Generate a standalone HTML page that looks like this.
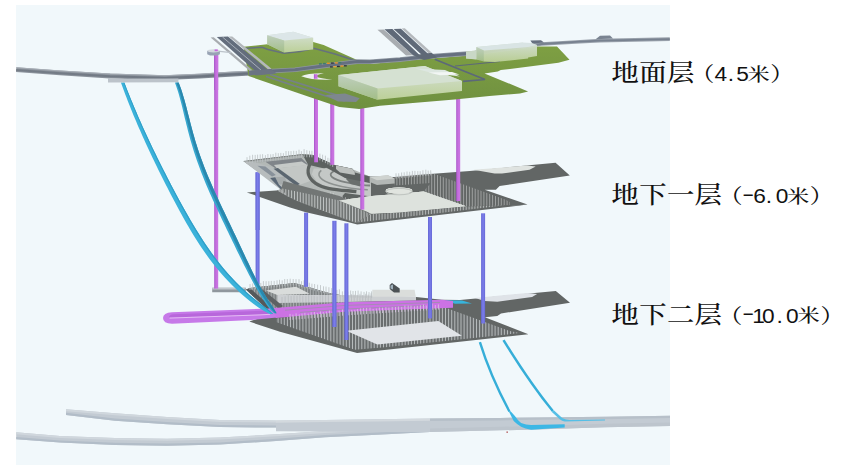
<!DOCTYPE html>
<html lang="zh"><head><meta charset="utf-8"><title>分层示意</title>
<style>
html,body{margin:0;padding:0;background:#fff;}
body{width:847px;height:474px;overflow:hidden;position:relative;}
svg{position:absolute;left:0;top:0;display:block;}
.k{font-family:"Liberation Serif","Noto Serif CJK SC",serif;fill:#111;font-weight:500;}
.d{font-family:"Liberation Sans","Noto Sans CJK SC",sans-serif;fill:#111;font-weight:400;}
.h{font-family:"Liberation Mono","Noto Sans CJK SC",monospace;fill:#111;font-weight:400;}
.a{text-anchor:middle;}
</style></head><body>
<svg width="847" height="474" viewBox="0 0 847 474">
<defs><linearGradient id="gm" x1="0" x2="1" y1="0" y2="0"><stop offset="0" stop-color="#a654c8"/><stop offset="0.4" stop-color="#c56ede"/><stop offset="1" stop-color="#cb76e3"/></linearGradient><linearGradient id="gb" x1="0" x2="1" y1="0" y2="0"><stop offset="0" stop-color="#6466d4"/><stop offset="0.5" stop-color="#7b7eea"/><stop offset="1" stop-color="#6668d6"/></linearGradient><linearGradient id="gg" x1="0" x2="0" y1="0" y2="1"><stop offset="0" stop-color="#7fa043"/><stop offset="1" stop-color="#6f9040"/></linearGradient><linearGradient id="gbf" x1="0" x2="0" y1="0" y2="1"><stop offset="0" stop-color="#d6e1d8"/><stop offset="1" stop-color="#bcd098"/></linearGradient><linearGradient id="gbs" x1="0" x2="0" y1="0" y2="1"><stop offset="0" stop-color="#bfcfbe"/><stop offset="1" stop-color="#a3be88"/></linearGradient><linearGradient id="grd" gradientUnits="userSpaceOnUse" x1="16" x2="250" y1="0" y2="0"><stop offset="0" stop-color="#8d949d"/><stop offset="0.6" stop-color="#868e97"/><stop offset="1" stop-color="#7c848f"/></linearGradient><linearGradient id="grd2" gradientUnits="userSpaceOnUse" x1="16" x2="250" y1="0" y2="0"><stop offset="0" stop-color="#757d87"/><stop offset="0.6" stop-color="#707883"/><stop offset="1" stop-color="#69727e"/></linearGradient></defs>
<rect x="16.0" y="5.0" width="654.0" height="460.0" fill="#f1f8fb" />
<polygon points="66.0,409.3 115.0,413.2 167.0,417.0 220.0,420.0 276.0,420.5 276.0,427.6 220.0,427.1 167.0,424.3 115.0,420.7 66.0,414.9" fill="#c3cbd3" />
<polygon points="66.0,409.3 115.0,413.2 167.0,417.0 220.0,420.0 276.0,420.5 276.0,422.5 220.0,422.0 167.0,419.0 115.0,415.2 66.0,411.3" fill="#d0d7dd" />
<polygon points="66.0,412.7 115.0,418.5 167.0,422.1 220.0,424.9 276.0,425.4 276.0,427.6 220.0,427.1 167.0,424.3 115.0,420.7 66.0,414.9" fill="#b2bdc8" />
<polygon points="16.2,432.3 60.0,436.0 115.0,438.0 167.0,438.8 220.0,437.6 276.0,434.2 325.0,431.1 377.0,428.0 430.0,425.0 430.0,432.1 377.0,434.8 325.0,437.3 276.0,441.0 220.0,444.6 167.0,445.8 115.0,445.0 60.0,442.6 16.2,439.2" fill="#c3cbd3" />
<polygon points="16.2,432.3 60.0,436.0 115.0,438.0 167.0,438.8 220.0,437.6 276.0,434.2 325.0,431.1 377.0,428.0 430.0,425.0 430.0,427.0 377.0,430.0 325.0,433.1 276.0,436.2 220.0,439.6 167.0,440.8 115.0,440.0 60.0,438.0 16.2,434.3" fill="#d0d7dd" />
<polygon points="16.2,437.0 60.0,440.4 115.0,442.8 167.0,443.6 220.0,442.4 276.0,438.8 325.0,435.1 377.0,432.6 430.0,429.9 430.0,432.1 377.0,434.8 325.0,437.3 276.0,441.0 220.0,444.6 167.0,445.8 115.0,445.0 60.0,442.6 16.2,439.2" fill="#b2bdc8" />
<polygon points="276.0,420.5 325.0,419.9 377.0,419.3 430.0,418.6 500.0,418.0 535.0,417.4 605.0,416.8 670.0,415.7 670.0,426.0 605.0,427.3 535.0,429.6 500.0,430.3 430.0,432.1 377.0,432.0 325.0,431.6 276.0,431.3" fill="#c3cbd3" />
<polygon points="276.0,420.5 325.0,419.9 377.0,419.3 430.0,418.6 430.0,420.8 377.0,421.5 325.0,422.1 276.0,422.7" fill="#d3d9de" />
<polygon points="430.0,418.6 500.0,418.0 535.0,417.4 605.0,416.8 670.0,415.7 670.0,418.1 605.0,419.2 535.0,419.8 500.0,420.4 430.0,421.0" fill="#b7c0c9" />
<polygon points="430.0,428.6 500.0,426.8 535.0,426.1 605.0,423.8 670.0,422.5 670.0,426.0 605.0,427.3 535.0,429.6 500.0,430.3 430.0,432.1" fill="#bdc5cd" />
<rect x="506.5" y="431.5" width="1.3" height="1.3" fill="#a83a3a" />
<path d="M479.9,342.1 Q490,375 509.4,411.5" fill="none" stroke="#36aed8" stroke-width="2.4" />
<path d="M503.5,340.1 Q530.6,384 552.8,411" fill="none" stroke="#36aed8" stroke-width="2.5" />
<path d="M508.7,411.2 L510.6,411.2 L514.9,416.1 Q518,421 521.1,423 Q526,424.9 531.1,424.9 L564.7,424.2 L564.7,427.6 L531.1,429.8 Q525,428.5 521.1,426.7 Q517,424.5 513.7,421.1 Z" fill="#3cb7e5" stroke="none" stroke-width="1" />
<path d="M551.6,411.8 L553.8,410.3 L562.2,418 Q566,420 569.7,420 L605,419.4 L605,420.4 L564.7,421.4 Q562,421 559.7,419.3 Z" fill="#55bfe6" stroke="none" stroke-width="1" />
<polygon points="249.3,321.6 272.0,314.0 246.0,289.5 250.0,288.0 294.7,283.0 327.0,292.4 345.0,296.0 416.0,297.0 442.0,299.8 460.0,299.9 555.8,291.1 570.0,302.8 501.0,313.5 497.3,316.0 484.9,317.3 528.4,334.2 357.1,352.9 280.0,331.7" fill="#626665" />
<polygon points="475.0,297.9 527.2,292.9 537.1,294.1 532.1,296.9 497.3,301.8 484.9,301.1" fill="#dfe3e8" />
<polygon points="246.0,289.5 250.0,288.0 294.7,283.0 327.0,292.4 345.0,296.0 345.0,306.0 272.0,314.0" fill="#7d8283" />
<clipPath id="c0"><polygon points="246.0,289.5 250.0,288.0 294.7,283.0 327.0,292.4 345.0,296.0 345.0,306.0 272.0,314.0"/></clipPath>
<path d="M246.0 282.0V315.0M248.8 282.0V315.0M251.6 282.0V315.0M254.4 282.0V315.0M257.2 282.0V315.0M260.0 282.0V315.0M262.8 282.0V315.0M265.6 282.0V315.0M268.4 282.0V315.0M271.2 282.0V315.0M274.0 282.0V315.0M276.8 282.0V315.0M279.6 282.0V315.0M282.4 282.0V315.0M285.2 282.0V315.0M288.0 282.0V315.0M290.8 282.0V315.0M293.6 282.0V315.0M296.4 282.0V315.0M299.2 282.0V315.0M302.0 282.0V315.0M304.8 282.0V315.0M307.6 282.0V315.0M310.4 282.0V315.0M313.2 282.0V315.0M316.0 282.0V315.0M318.8 282.0V315.0M321.6 282.0V315.0M324.4 282.0V315.0M327.2 282.0V315.0M330.0 282.0V315.0M332.8 282.0V315.0M335.6 282.0V315.0M338.4 282.0V315.0M341.2 282.0V315.0M344.0 282.0V315.0" fill="none" stroke="#c9cdce" stroke-width="0.8" clip-path="url(#c0)" opacity="0.75"/>
<polygon points="266.0,290.5 296.0,286.8 309.7,293.7 277.3,294.9" fill="#d9dcdb" />
<polygon points="277.3,294.9 345.0,294.9 416.0,296.8 416.0,300.5 345.0,302.0 277.3,303.0" fill="#cdd0d3" />
<polygon points="246.0,289.5 250.0,288.2 276.0,311.0 272.0,314.0" fill="#55595b" />
<polygon points="255.0,288.0 260.0,287.4 283.0,306.0 279.0,309.0" fill="#5d6163" />
<polygon points="372.3,289.7 414.6,289.7 415.8,296.8 372.3,296.8" fill="#dadddb" />
<polygon points="389.7,285.0 392.0,283.1 399.7,288.5 399.7,292.4 394.0,292.4 389.7,289.0" fill="#4c5255" />
<polygon points="390.5,285.5 393.0,284.5 393.0,289.5 390.5,288.5" fill="#9fb0bb" />
<path d="M250.0 290.0v-5.9M252.7 289.7v-6.2M255.5 289.4v-6.6M257.9 289.1v-5.5M260.8 288.8v-5.9M263.4 288.5v-7.4M266.1 288.2v-7.0M268.8 287.9v-6.7M271.3 287.6v-6.7M274.2 287.3v-6.4M277.0 287.0v-6.7M279.5 286.7v-6.9M282.2 286.4v-6.0M284.7 286.1v-7.1M287.3 285.8v-6.8M290.2 285.5v-6.8M293.2 285.2v-6.2M296.0 285.4v-6.3M299.0 286.2v-7.1M301.5 286.9v-5.7M304.0 287.6v-7.3M306.7 288.3v-6.6M309.3 289.1v-6.4M311.9 289.8v-6.1M314.6 290.6v-6.6M317.6 291.4v-6.7M320.5 292.2v-7.1M323.5 293.0v-6.7M326.0 293.7v-7.1M328.9 294.4v-7.2M331.7 294.9v-6.8M334.2 295.4v-7.0M336.9 295.9v-6.0M339.4 296.4v-7.1M342.4 297.0v-5.6M345.2 297.5v-6.2M347.8 297.6v-6.0M350.6 297.6v-7.1M353.0 297.6v-6.6M355.5 297.7v-6.8M358.1 297.7v-7.1M361.1 297.8v-6.4M364.0 297.9v-6.0M366.5 297.9v-6.6M369.0 297.9v-5.8M371.6 298.0v-6.6" fill="none" stroke="#bcc1c4" stroke-width="0.8" opacity="1"/>
<path d="M282.0 303.0v-6.0M285.1 303.0v-6.6M288.3 302.9v-7.8M291.1 302.9v-6.9M294.0 302.8v-7.3M297.0 302.8v-7.1M299.9 302.7v-7.9M302.8 302.7v-6.9M305.9 302.6v-6.4M308.7 302.6v-8.0M311.6 302.5v-7.1M314.2 302.5v-6.8M317.1 302.4v-6.0M320.1 302.4v-7.3M322.7 302.4v-7.3M325.6 302.3v-7.4M328.4 302.3v-7.4M331.5 302.2v-6.0M334.1 302.2v-7.4M337.3 302.1v-6.5M340.2 302.1v-7.2M343.0 302.0v-6.7M345.8 302.0v-6.7M348.7 301.9v-6.6M351.5 301.8v-7.6M354.2 301.7v-7.1M357.2 301.5v-6.6M359.9 301.4v-7.6M362.7 301.3v-6.3M365.6 301.2v-7.4M368.2 301.1v-6.6M371.0 301.0v-7.7" fill="none" stroke="#aeb2b5" stroke-width="0.7" opacity="0.8"/>
<polygon points="276.0,318.5 345.0,309.0 430.0,304.0 445.0,307.5 509.6,331.0 520.0,333.0 505.0,334.7 385.0,347.3 354.6,349.8 280.0,323.6 276.0,322.0" fill="#696d6e" />
<clipPath id="c1"><polygon points="276.0,318.5 345.0,309.0 430.0,304.0 445.0,307.5 509.6,331.0 520.0,333.0 505.0,334.7 385.0,347.3 354.6,349.8 280.0,323.6 276.0,322.0"/></clipPath>
<path d="M275.0 300.0V352.0M278.1 300.0V352.0M281.2 300.0V352.0M284.3 300.0V352.0M287.4 300.0V352.0M290.5 300.0V352.0M293.6 300.0V352.0M296.7 300.0V352.0M299.8 300.0V352.0M302.9 300.0V352.0M306.0 300.0V352.0M309.1 300.0V352.0M312.2 300.0V352.0M315.3 300.0V352.0M318.4 300.0V352.0M321.5 300.0V352.0M324.6 300.0V352.0M327.7 300.0V352.0M330.8 300.0V352.0M333.9 300.0V352.0M337.0 300.0V352.0M340.1 300.0V352.0M343.2 300.0V352.0M346.3 300.0V352.0M349.4 300.0V352.0M352.5 300.0V352.0M355.6 300.0V352.0M358.7 300.0V352.0M361.8 300.0V352.0M364.9 300.0V352.0M368.0 300.0V352.0M371.1 300.0V352.0M374.2 300.0V352.0M377.3 300.0V352.0M380.4 300.0V352.0M383.5 300.0V352.0M386.6 300.0V352.0M389.7 300.0V352.0M392.8 300.0V352.0M395.9 300.0V352.0M399.0 300.0V352.0M402.1 300.0V352.0M405.2 300.0V352.0M408.3 300.0V352.0M411.4 300.0V352.0M414.5 300.0V352.0M417.6 300.0V352.0M420.7 300.0V352.0M423.8 300.0V352.0M426.9 300.0V352.0M430.0 300.0V352.0M433.1 300.0V352.0M436.2 300.0V352.0M439.3 300.0V352.0M442.4 300.0V352.0M445.5 300.0V352.0M448.6 300.0V352.0M451.7 300.0V352.0M454.8 300.0V352.0M457.9 300.0V352.0M461.0 300.0V352.0M464.1 300.0V352.0M467.2 300.0V352.0M470.3 300.0V352.0M473.4 300.0V352.0M476.5 300.0V352.0M479.6 300.0V352.0M482.7 300.0V352.0M485.8 300.0V352.0M488.9 300.0V352.0M492.0 300.0V352.0M495.1 300.0V352.0M498.2 300.0V352.0M501.3 300.0V352.0M504.4 300.0V352.0M507.5 300.0V352.0M510.6 300.0V352.0M513.7 300.0V352.0M516.8 300.0V352.0M519.9 300.0V352.0" fill="none" stroke="#d9dcde" stroke-width="0.7" clip-path="url(#c1)" opacity="1"/>
<polygon points="346.2,330.8 438.3,320.9 461.9,335.8 377.3,344.5" fill="#e1e4e8" />
<polygon points="444.5,300.3 462.0,300.6 472.0,303.5 455.0,303.8" fill="#37b4dc" />
<polygon points="268.6,308.6 345.0,302.2 442.0,299.8 453.0,301.0 453.0,307.7 345.0,311.8 276.0,317.9" fill="#cc72e4" />
<polyline points="285.0,310.2 345.0,305.4 440.0,302.4" fill="none" stroke="#a08fb0" stroke-width="0.9" />
<polyline points="300.0,312.4 345.0,309.0 425.0,305.6" fill="none" stroke="#a08fb0" stroke-width="0.9" />
<path d="M290.0 320.0v-6.1M292.9 319.8v-5.2M296.1 319.5v-6.1M299.2 319.3v-5.0M302.0 319.0v-5.5M304.9 318.8v-6.0M308.2 318.5v-5.0M311.2 318.3v-6.0M314.4 318.0v-6.0M317.4 317.8v-4.9M320.4 317.5v-6.0M323.3 317.3v-5.2M326.4 317.0v-5.4M329.4 316.8v-6.2M332.3 316.5v-4.7M335.7 316.3v-6.1M339.1 316.0v-5.4M342.5 315.7v-6.2M345.4 315.5v-5.9M348.7 315.3v-5.8M351.8 315.1v-5.2M354.8 314.9v-5.1M357.6 314.7v-5.6M360.6 314.5v-6.0M363.4 314.3v-6.2M366.6 314.1v-6.2M370.0 313.9v-6.2M373.1 313.7v-4.7M376.4 313.5v-5.0M379.4 313.3v-5.8M382.5 313.1v-5.4M385.9 312.9v-5.7M388.9 312.7v-5.1M392.2 312.5v-5.5M395.5 312.3v-5.3M398.4 312.1v-5.6M401.7 311.9v-5.0M404.9 311.7v-6.2M408.2 311.5v-6.0M411.0 311.3v-5.7M414.4 311.1v-4.8M417.3 310.9v-5.1M420.4 310.7v-5.4M423.5 310.5v-6.0M426.3 310.4v-4.8M429.2 310.2v-4.9M432.0 310.0v-6.3M435.3 309.8v-4.8M438.4 309.6v-5.2" fill="none" stroke="#dcc8e6" stroke-width="0.8" opacity="1"/>
<path d="M272,308.4 L172,312.2 Q163,312.6 163,318 Q163,323.6 172,323.7 L252,319.9 L277,317.6 Z" fill="#c679e8" stroke="none" stroke-width="1" />
<path d="M272,310.4 L174,314.2 Q168.6,314.6 169,317.6 L268,314.3 Z" fill="#b867db" stroke="none" stroke-width="1" />
<polyline points="169.5,318.1 260.0,314.9 270.0,314.3" fill="none" stroke="#e8c4f5" stroke-width="0.9" />
<polygon points="212.2,287.8 245.8,287.8 245.8,292.3 212.2,292.3" fill="#8f979d" />
<polygon points="212.2,287.8 245.8,287.8 244.0,289.6 212.2,289.6" fill="#c1c7cc" />
<rect x="255.6" y="172.3" width="4.0" height="112.5" fill="url(#gb)" />
<rect x="304.1" y="212.6" width="4.0" height="74.2" fill="url(#gb)" />
<rect x="332.3" y="220.8" width="4.2" height="106.2" fill="url(#gb)" />
<rect x="344.4" y="223.3" width="4.0" height="116.7" fill="url(#gb)" />
<rect x="428.0" y="217.0" width="4.0" height="101.4" fill="url(#gb)" />
<rect x="481.1" y="213.3" width="4.0" height="110.2" fill="url(#gb)" />
<rect x="214.2" y="55.0" width="4.0" height="233.6" fill="url(#gm)" />
<polygon points="120.9,82.4 122.0,85.4 123.1,88.4 124.2,91.4 125.3,94.4 126.5,97.4 127.6,100.4 128.8,103.4 130.0,106.4 131.2,109.4 132.4,112.4 133.6,115.4 134.9,118.4 136.2,121.4 137.4,124.4 138.7,127.4 140.1,130.4 141.4,133.4 142.7,136.4 144.1,139.4 145.4,142.4 146.8,145.4 148.2,148.4 149.6,151.4 151.0,154.4 152.4,157.4 153.9,160.4 155.3,163.4 156.8,166.4 158.2,169.4 159.7,172.4 161.2,175.4 162.7,178.4 164.2,181.4 165.7,184.4 167.3,187.4 168.8,190.4 170.3,193.4 171.9,196.4 173.5,199.4 175.1,202.4 176.7,205.4 178.3,208.4 179.9,211.4 181.6,214.4 183.2,217.4 184.9,220.4 186.6,223.4 188.4,226.4 190.1,229.4 191.9,232.4 193.7,235.4 195.6,238.4 197.5,241.4 199.4,244.4 201.4,247.4 203.5,250.4 205.6,253.4 207.7,256.4 209.9,259.4 212.2,262.4 214.6,265.4 217.0,268.4 219.5,271.4 222.1,274.4 224.8,277.4 227.6,280.4 230.5,283.4 233.5,286.4 236.6,289.4 239.8,292.4 243.2,295.4 246.7,298.4 250.4,301.4 254.3,304.4 258.5,307.4 263.1,310.4 268.6,313.4 269.8,314.0 273.3,314.0 272.6,313.4 269.3,310.4 265.5,307.4 261.5,304.4 257.6,301.4 253.9,298.4 250.3,295.4 246.9,292.4 243.6,289.4 240.4,286.4 237.3,283.4 234.4,280.4 231.6,277.4 228.8,274.4 226.2,271.4 223.6,268.4 221.2,265.4 218.8,262.4 216.5,259.4 214.2,256.4 212.0,253.4 209.9,250.4 207.8,247.4 205.7,244.4 203.7,241.4 201.8,238.4 199.9,235.4 198.0,232.4 196.1,229.4 194.3,226.4 192.5,223.4 190.7,220.4 189.0,217.4 187.3,214.4 185.6,211.4 183.9,208.4 182.2,205.4 180.6,202.4 178.9,199.4 177.3,196.4 175.7,193.4 174.1,190.4 172.5,187.4 170.9,184.4 169.4,181.4 167.8,178.4 166.3,175.4 164.8,172.4 163.2,169.4 161.7,166.4 160.2,163.4 158.7,160.4 157.2,157.4 155.8,154.4 154.3,151.4 152.8,148.4 151.4,145.4 150.0,142.4 148.6,139.4 147.2,136.4 145.8,133.4 144.4,130.4 143.0,127.4 141.7,124.4 140.4,121.4 139.0,118.4 137.7,115.4 136.5,112.4 135.2,109.4 133.9,106.4 132.7,103.4 131.4,100.4 130.2,97.4 129.0,94.4 127.8,91.4 126.6,88.4 125.5,85.4 124.3,82.4" fill="#3bb2da" />
<polygon points="123.5,82.4 124.6,85.4 125.8,88.4 126.9,91.4 128.1,94.4 129.3,97.4 130.5,100.4 131.7,103.4 132.9,106.4 134.2,109.4 135.4,112.4 136.7,115.4 138.0,118.4 139.3,121.4 140.6,124.4 142.0,127.4 143.3,130.4 144.7,133.4 146.1,136.4 147.4,139.4 148.8,142.4 150.3,145.4 151.7,148.4 153.1,151.4 154.6,154.4 156.0,157.4 157.5,160.4 159.0,163.4 160.5,166.4 162.0,169.4 163.5,172.4 165.0,175.4 166.5,178.4 168.1,181.4 169.6,184.4 171.2,187.4 172.8,190.4 174.4,193.4 176.0,196.4 177.6,199.4 179.2,202.4 180.8,205.4 182.5,208.4 184.2,211.4 185.8,214.4 187.6,217.4 189.3,220.4 191.0,223.4 192.8,226.4 194.6,229.4 196.5,232.4 198.3,235.4 200.2,238.4 202.2,241.4 204.2,244.4 206.2,247.4 208.3,250.4 210.4,253.4 212.6,256.4 214.8,259.4 217.1,262.4 219.5,265.4 222.0,268.4 224.5,271.4 227.1,274.4 229.9,277.4 232.7,280.4 235.6,283.4 238.7,286.4 241.8,289.4 245.1,292.4 248.5,295.4 252.1,298.4 255.8,301.4 259.7,304.4 263.7,307.4 267.7,310.4 271.6,313.4 272.4,314.0 273.3,314.0 272.6,313.4 269.3,310.4 265.5,307.4 261.5,304.4 257.6,301.4 253.9,298.4 250.3,295.4 246.9,292.4 243.6,289.4 240.4,286.4 237.3,283.4 234.4,280.4 231.6,277.4 228.8,274.4 226.2,271.4 223.6,268.4 221.2,265.4 218.8,262.4 216.5,259.4 214.2,256.4 212.0,253.4 209.9,250.4 207.8,247.4 205.7,244.4 203.7,241.4 201.8,238.4 199.9,235.4 198.0,232.4 196.1,229.4 194.3,226.4 192.5,223.4 190.7,220.4 189.0,217.4 187.3,214.4 185.6,211.4 183.9,208.4 182.2,205.4 180.6,202.4 178.9,199.4 177.3,196.4 175.7,193.4 174.1,190.4 172.5,187.4 170.9,184.4 169.4,181.4 167.8,178.4 166.3,175.4 164.8,172.4 163.2,169.4 161.7,166.4 160.2,163.4 158.7,160.4 157.2,157.4 155.8,154.4 154.3,151.4 152.8,148.4 151.4,145.4 150.0,142.4 148.6,139.4 147.2,136.4 145.8,133.4 144.4,130.4 143.0,127.4 141.7,124.4 140.4,121.4 139.0,118.4 137.7,115.4 136.5,112.4 135.2,109.4 133.9,106.4 132.7,103.4 131.4,100.4 130.2,97.4 129.0,94.4 127.8,91.4 126.6,88.4 125.5,85.4 124.3,82.4" fill="#2f9fc8" />
<polygon points="174.9,82.4 176.0,85.4 177.0,88.4 178.0,91.4 178.9,94.4 179.7,97.4 180.5,100.4 181.3,103.4 182.1,106.4 182.8,109.4 183.5,112.4 184.2,115.4 184.9,118.4 185.7,121.4 186.4,124.4 187.2,127.4 187.9,130.4 188.7,133.4 189.5,136.4 190.3,139.4 191.2,142.4 192.1,145.4 193.0,148.4 193.9,151.4 194.9,154.4 195.9,157.4 196.9,160.4 198.0,163.4 199.1,166.4 200.2,169.4 201.3,172.4 202.5,175.4 203.7,178.4 204.9,181.4 206.1,184.4 207.4,187.4 208.7,190.4 210.0,193.4 211.4,196.4 212.7,199.4 214.1,202.4 215.5,205.4 216.9,208.4 218.3,211.4 219.7,214.4 221.1,217.4 222.5,220.4 224.0,223.4 225.4,226.4 226.8,229.4 228.3,232.4 229.7,235.4 231.2,238.4 232.6,241.4 234.1,244.4 235.5,247.4 236.9,250.4 238.4,253.4 239.9,256.4 241.4,259.4 242.8,262.4 244.3,265.4 245.9,268.4 247.4,271.4 248.9,274.4 250.5,277.4 252.1,280.4 253.7,283.4 255.3,286.4 257.0,289.4 258.8,292.4 260.6,295.4 262.4,298.4 264.4,301.4 266.4,304.4 268.6,307.4 271.2,310.4 274.1,313.2 276.6,313.2 275.0,310.4 273.2,307.4 271.1,304.4 269.1,301.4 267.1,298.4 265.3,295.4 263.5,292.4 261.7,289.4 260.1,286.4 258.4,283.4 256.9,280.4 255.3,277.4 253.8,274.4 252.3,271.4 250.9,268.4 249.5,265.4 248.1,262.4 246.6,259.4 245.2,256.4 243.8,253.4 242.4,250.4 241.0,247.4 239.6,244.4 238.2,241.4 236.8,238.4 235.4,235.4 233.9,232.4 232.5,229.4 231.1,226.4 229.7,223.4 228.2,220.4 226.8,217.4 225.4,214.4 224.0,211.4 222.5,208.4 221.1,205.4 219.7,202.4 218.3,199.4 217.0,196.4 215.6,193.4 214.2,190.4 212.9,187.4 211.6,184.4 210.3,181.4 209.0,178.4 207.7,175.4 206.5,172.4 205.3,169.4 204.1,166.4 203.0,163.4 201.9,160.4 200.8,157.4 199.7,154.4 198.7,151.4 197.7,148.4 196.8,145.4 195.8,142.4 194.9,139.4 194.1,136.4 193.2,133.4 192.4,130.4 191.6,127.4 190.8,124.4 190.0,121.4 189.3,118.4 188.5,115.4 187.7,112.4 187.0,109.4 186.2,106.4 185.4,103.4 184.6,100.4 183.7,97.4 182.8,94.4 181.9,91.4 180.9,88.4 179.8,85.4 178.6,82.4" fill="#38a8cf" />
<polygon points="176.3,82.4 177.4,85.4 178.5,88.4 179.5,91.4 180.4,94.4 181.2,97.4 182.1,100.4 182.9,103.4 183.6,106.4 184.4,109.4 185.1,112.4 185.9,115.4 186.6,118.4 187.3,121.4 188.1,124.4 188.8,127.4 189.6,130.4 190.4,133.4 191.2,136.4 192.1,139.4 193.0,142.4 193.9,145.4 194.8,148.4 195.7,151.4 196.7,154.4 197.7,157.4 198.8,160.4 199.9,163.4 201.0,166.4 202.1,169.4 203.3,172.4 204.5,175.4 205.7,178.4 206.9,181.4 208.2,184.4 209.5,187.4 210.8,190.4 212.1,193.4 213.5,196.4 214.9,199.4 216.2,202.4 217.6,205.4 219.0,208.4 220.4,211.4 221.8,214.4 223.3,217.4 224.7,220.4 226.1,223.4 227.6,226.4 229.0,229.4 230.4,232.4 231.9,235.4 233.3,238.4 234.7,241.4 236.2,244.4 237.6,247.4 239.0,250.4 240.5,253.4 241.9,256.4 243.4,259.4 244.8,262.4 246.3,265.4 247.8,268.4 249.3,271.4 250.8,274.4 252.3,277.4 253.9,280.4 255.5,283.4 257.1,286.4 258.8,289.4 260.5,292.4 262.3,295.4 264.2,298.4 266.2,301.4 268.2,304.4 270.3,307.4 272.7,310.4 275.0,313.2 276.6,313.2 275.0,310.4 273.2,307.4 271.1,304.4 269.1,301.4 267.1,298.4 265.3,295.4 263.5,292.4 261.7,289.4 260.1,286.4 258.4,283.4 256.9,280.4 255.3,277.4 253.8,274.4 252.3,271.4 250.9,268.4 249.5,265.4 248.1,262.4 246.6,259.4 245.2,256.4 243.8,253.4 242.4,250.4 241.0,247.4 239.6,244.4 238.2,241.4 236.8,238.4 235.4,235.4 233.9,232.4 232.5,229.4 231.1,226.4 229.7,223.4 228.2,220.4 226.8,217.4 225.4,214.4 224.0,211.4 222.5,208.4 221.1,205.4 219.7,202.4 218.3,199.4 217.0,196.4 215.6,193.4 214.2,190.4 212.9,187.4 211.6,184.4 210.3,181.4 209.0,178.4 207.7,175.4 206.5,172.4 205.3,169.4 204.1,166.4 203.0,163.4 201.9,160.4 200.8,157.4 199.7,154.4 198.7,151.4 197.7,148.4 196.8,145.4 195.8,142.4 194.9,139.4 194.1,136.4 193.2,133.4 192.4,130.4 191.6,127.4 190.8,124.4 190.0,121.4 189.3,118.4 188.5,115.4 187.7,112.4 187.0,109.4 186.2,106.4 185.4,103.4 184.6,100.4 183.7,97.4 182.8,94.4 181.9,91.4 180.9,88.4 179.8,85.4 178.6,82.4" fill="#2a88ae" />
<polygon points="246.8,192.4 276.0,190.5 283.5,189.7 339.5,204.6 361.8,214.6 440.0,209.6 527.5,204.6 357.2,224.6 345.0,221.3 305.0,212.0 290.0,207.5 246.8,192.4" fill="#626665" />
<rect x="255.6" y="172.3" width="4.0" height="57.7" fill="url(#gb)" />
<polygon points="243.7,161.2 302.2,154.3 312.1,154.7 334.5,165.0 352.3,168.7 355.0,172.4 369.8,176.5 394.6,177.0 420.0,174.8 469.8,171.0 555.6,162.8 569.8,175.5 499.6,186.0 495.9,189.7 484.7,189.7 527.5,204.6 440.0,212.0 361.8,218.0 339.5,208.0 283.5,189.7" fill="#626665" />
<polygon points="473.5,169.8 527.0,165.6 535.7,166.6 529.5,169.8 502.0,173.5 494.6,173.5" fill="#dfe3e0" />
<polygon points="243.7,161.2 302.2,154.3 312.1,154.7 322.0,160.0 334.5,165.0 352.0,169.0 371.0,177.0 371.0,203.0 370.8,214.2 338.4,201.1 282.4,189.7" fill="#b3b8b6" />
<polygon points="243.7,161.2 302.2,154.3 306.0,157.4 252.0,163.6" fill="#a9aead" />
<polyline points="243.7,161.4 302.2,154.6" fill="none" stroke="#6d7271" stroke-width="0.8" />
<polygon points="265.4,161.8 301.4,158.0 308.1,164.7 275.8,168.5" fill="#80858a" />
<polygon points="273.9,164.9 301.8,161.6 307.7,165.2 277.1,168.5" fill="#c6cac8" />
<polygon points="275.8,168.5 308.1,164.7 305.6,174.2 310.9,180.8 298.6,185.2" fill="#c3c7c5" />
<polygon points="243.5,161.3 255.9,162.4 275.8,168.5 296.1,185.5 282.4,190.9" fill="#b7bcbd" />
<polygon points="257.4,165.8 265.4,166.6 275.8,175.1 272.0,176.4" fill="#88919a" />
<polygon points="275.2,177.2 284.7,176.4 287.2,183.6 279.0,184.8" fill="#a6abac" />
<polygon points="270.1,178.0 275.2,177.2 279.0,184.8 284.7,189.7 282.4,190.9" fill="#5a6775" />
<polygon points="273.5,168.7 277.9,168.1 299.9,184.0 296.1,185.7" fill="#5b6670" />
<polygon points="302.4,154.2 312.8,155.2 333.7,164.7 324.2,168.5 308.1,164.7" fill="#5e6361" />
<polygon points="313.7,168.5 326.1,168.5 341.3,171.3 356.4,176.1 370.9,184.6 370.9,196.0 348.9,194.1 329.9,188.4 316.6,181.4 311.9,174.2" fill="#c4c8c6" />
<path d="M310.9,162.4 C307.1,168.5 306.2,177.0 315.6,183.3 S337.5,189.7 356.4,191.6" fill="none" stroke="#5e6361" stroke-width="3.4" />
<path d="M321.3,170.4 C315.6,175.1 320.4,180.8 333.7,184.6 S356.4,189.7 367.8,189.7" fill="none" stroke="#8d9290" stroke-width="1.6" />
<path d="M333.7,171.3 C326.1,175.1 333.7,179.8 345.1,182.1 S364.0,185.5 370.1,185.5" fill="none" stroke="#7d8280" stroke-width="1.8" />
<polygon points="348.9,174.2 360.2,178.0 360.2,186.5 350.7,184.0 346.0,178.9" fill="#6a6f6d" />
<polygon points="345.0,193.0 371.0,196.5 371.0,200.0 338.7,200.4" fill="#5e6361" />
<polygon points="312.1,154.7 334.5,165.0 352.3,168.7 355.0,172.4 369.8,176.5 369.8,183.0 345.0,178.0 318.0,163.0" fill="#5c6160" />
<polygon points="336.0,165.5 352.3,168.7 354.8,172.4 354.8,175.0 340.0,172.5 336.0,169.0" fill="#bdc1bf" />
<polygon points="369.8,177.0 388.0,175.3 394.6,178.4 394.6,183.6 377.0,185.0 369.8,182.0" fill="#b3b7b5" />
<polygon points="369.8,177.0 388.0,175.3 394.6,178.4 377.0,180.2" fill="#cfd3d0" />
<polygon points="338.7,200.4 372.0,196.0 400.0,193.8 423.6,191.5 466.0,206.2 400.0,212.4 371.6,213.6" fill="#dde2dd" />
<ellipse cx="399" cy="190.6" rx="13.2" ry="3.2" fill="#e0e4df"/>
<ellipse cx="399" cy="191.6" rx="13.2" ry="3.2" fill="none" stroke="#a9aeab" stroke-width="0.6"/>
<polygon points="282.4,188.5 338.4,200.2 370.8,214.2 357.0,222.6 354.7,222.2 345.0,219.0 298.5,201.5 288.0,196.5 277.0,190.6" fill="#707473" />
<polygon points="282.4,188.5 338.4,200.2 370.8,214.2 366.0,217.0 338.0,204.6 284.0,192.5" fill="#a5aaa8" />
<clipPath id="c3"><polygon points="282.4,188.5 338.4,200.2 370.8,214.2 357.0,222.6 354.7,222.2 345.0,219.0 298.5,201.5 288.0,196.5 277.0,190.6"/></clipPath>
<path d="M276.0 186.0V224.0M278.9 186.0V224.0M281.8 186.0V224.0M284.7 186.0V224.0M287.6 186.0V224.0M290.5 186.0V224.0M293.4 186.0V224.0M296.3 186.0V224.0M299.2 186.0V224.0M302.1 186.0V224.0M305.0 186.0V224.0M307.9 186.0V224.0M310.8 186.0V224.0M313.7 186.0V224.0M316.6 186.0V224.0M319.5 186.0V224.0M322.4 186.0V224.0M325.3 186.0V224.0M328.2 186.0V224.0M331.1 186.0V224.0M334.0 186.0V224.0M336.9 186.0V224.0M339.8 186.0V224.0M342.7 186.0V224.0M345.6 186.0V224.0M348.5 186.0V224.0M351.4 186.0V224.0M354.3 186.0V224.0M357.2 186.0V224.0M360.1 186.0V224.0M363.0 186.0V224.0M365.9 186.0V224.0M368.8 186.0V224.0M371.7 186.0V224.0" fill="none" stroke="#dadddd" stroke-width="0.75" clip-path="url(#c3)" opacity="1"/>
<path d="M284.0 190.0v-6.2M287.0 190.6v-6.7M289.8 191.2v-5.9M292.6 191.8v-5.8M295.5 192.4v-6.9M298.4 193.0v-5.7M301.1 193.6v-6.3M304.0 194.2v-7.1M306.9 194.8v-7.1M309.8 195.5v-6.4M312.7 196.1v-6.5M315.7 196.7v-6.3M318.7 197.3v-6.4M321.5 197.9v-6.6M324.5 198.6v-5.7M327.3 199.2v-6.4M330.4 199.8v-7.4M333.3 200.4v-7.3M336.3 201.1v-6.0M339.2 201.8v-5.8M342.3 203.1v-6.8M345.4 204.4v-7.1M348.4 205.7v-7.0M351.4 206.9v-5.7M354.3 208.1v-5.5M357.0 209.3v-7.0M359.6 210.3v-5.7M362.3 211.5v-7.2M365.0 212.6v-5.6" fill="none" stroke="#dfe2e2" stroke-width="0.7" opacity="0.85"/>
<polygon points="338.7,200.4 372.0,196.0 400.0,193.8 423.6,191.5 466.0,206.2 400.0,212.4 371.6,213.6" fill="#dde2dd" />
<ellipse cx="399" cy="190.6" rx="13.2" ry="3.2" fill="#e0e4df"/>
<ellipse cx="399" cy="191.6" rx="13.2" ry="3.2" fill="none" stroke="#a9aeab" stroke-width="0.6"/>
<polygon points="283.5,181.0 339.5,196.0 361.8,206.5 370.8,214.2 357.0,222.6 354.7,222.2 345.0,219.0 298.5,201.5 288.0,196.5 281.0,189.0" fill="#727675" />
<clipPath id="c3"><polygon points="283.5,181.0 339.5,196.0 361.8,206.5 370.8,214.2 357.0,222.6 354.7,222.2 345.0,219.0 298.5,201.5 288.0,196.5 281.0,189.0"/></clipPath>
<path d="M280.0 178.0V224.0M282.9 178.0V224.0M285.8 178.0V224.0M288.7 178.0V224.0M291.6 178.0V224.0M294.5 178.0V224.0M297.4 178.0V224.0M300.3 178.0V224.0M303.2 178.0V224.0M306.1 178.0V224.0M309.0 178.0V224.0M311.9 178.0V224.0M314.8 178.0V224.0M317.7 178.0V224.0M320.6 178.0V224.0M323.5 178.0V224.0M326.4 178.0V224.0M329.3 178.0V224.0M332.2 178.0V224.0M335.1 178.0V224.0M338.0 178.0V224.0M340.9 178.0V224.0M343.8 178.0V224.0M346.7 178.0V224.0M349.6 178.0V224.0M352.5 178.0V224.0M355.4 178.0V224.0M358.3 178.0V224.0M361.2 178.0V224.0M364.1 178.0V224.0M367.0 178.0V224.0M369.9 178.0V224.0" fill="none" stroke="#dadddd" stroke-width="0.75" clip-path="url(#c3)" opacity="1"/>
<polygon points="338.7,200.4 372.0,196.0 400.0,193.8 423.6,191.5 466.0,206.2 400.0,212.4 371.6,213.6" fill="#dde2dd" />
<ellipse cx="399" cy="190.6" rx="13.2" ry="3.2" fill="#e0e4df"/>
<ellipse cx="399" cy="191.6" rx="13.2" ry="3.2" fill="none" stroke="#a9aeab" stroke-width="0.6"/>
<polygon points="357.0,222.4 370.8,214.2 400.0,212.4 462.0,206.7 505.0,205.3 440.0,212.9 400.0,217.6" fill="#6c706f" />
<clipPath id="c4"><polygon points="357.0,222.4 370.8,214.2 400.0,212.4 462.0,206.7 505.0,205.3 440.0,212.9 400.0,217.6"/></clipPath>
<path d="M356.0 203.0V224.0M358.9 203.0V224.0M361.8 203.0V224.0M364.7 203.0V224.0M367.6 203.0V224.0M370.5 203.0V224.0M373.4 203.0V224.0M376.3 203.0V224.0M379.2 203.0V224.0M382.1 203.0V224.0M385.0 203.0V224.0M387.9 203.0V224.0M390.8 203.0V224.0M393.7 203.0V224.0M396.6 203.0V224.0M399.5 203.0V224.0M402.4 203.0V224.0M405.3 203.0V224.0M408.2 203.0V224.0M411.1 203.0V224.0M414.0 203.0V224.0M416.9 203.0V224.0M419.8 203.0V224.0M422.7 203.0V224.0M425.6 203.0V224.0M428.5 203.0V224.0M431.4 203.0V224.0M434.3 203.0V224.0M437.2 203.0V224.0M440.1 203.0V224.0M443.0 203.0V224.0M445.9 203.0V224.0M448.8 203.0V224.0M451.7 203.0V224.0M454.6 203.0V224.0M457.5 203.0V224.0M460.4 203.0V224.0M463.3 203.0V224.0M466.2 203.0V224.0M469.1 203.0V224.0M472.0 203.0V224.0M474.9 203.0V224.0M477.8 203.0V224.0M480.7 203.0V224.0M483.6 203.0V224.0M486.5 203.0V224.0M489.4 203.0V224.0M492.3 203.0V224.0M495.2 203.0V224.0M498.1 203.0V224.0M501.0 203.0V224.0M503.9 203.0V224.0M506.8 203.0V224.0" fill="none" stroke="#d3d6d6" stroke-width="0.7" clip-path="url(#c4)" opacity="1"/>
<clipPath id="c5"><polygon points="394.6,176.0 431.0,172.6 440.0,176.0 505.0,199.5 510.0,202.0 510.0,205.0 462.0,206.4 423.6,191.0 431.0,183.0 394.6,185.4"/></clipPath>
<path d="M394.0 171.0V208.0M396.9 171.0V208.0M399.8 171.0V208.0M402.7 171.0V208.0M405.6 171.0V208.0M408.5 171.0V208.0M411.4 171.0V208.0M414.3 171.0V208.0M417.2 171.0V208.0M420.1 171.0V208.0M423.0 171.0V208.0M425.9 171.0V208.0M428.8 171.0V208.0M431.7 171.0V208.0M434.6 171.0V208.0M437.5 171.0V208.0M440.4 171.0V208.0M443.3 171.0V208.0M446.2 171.0V208.0M449.1 171.0V208.0M452.0 171.0V208.0M454.9 171.0V208.0M457.8 171.0V208.0M460.7 171.0V208.0M463.6 171.0V208.0M466.5 171.0V208.0M469.4 171.0V208.0M472.3 171.0V208.0M475.2 171.0V208.0M478.1 171.0V208.0M481.0 171.0V208.0M483.9 171.0V208.0M486.8 171.0V208.0M489.7 171.0V208.0M492.6 171.0V208.0M495.5 171.0V208.0M498.4 171.0V208.0M501.3 171.0V208.0M504.2 171.0V208.0M507.1 171.0V208.0M510.0 171.0V208.0M512.9 171.0V208.0M515.8 171.0V208.0M518.7 171.0V208.0M521.6 171.0V208.0M524.5 171.0V208.0M527.4 171.0V208.0" fill="none" stroke="#cfd2d2" stroke-width="0.65" clip-path="url(#c5)" opacity="0.85"/>
<path d="M247.0 163.6v-6.4M249.8 163.3v-7.6M252.6 163.0v-8.2M255.2 162.7v-7.8M257.6 162.4v-7.8M260.2 162.1v-7.7M262.6 161.9v-7.7M265.4 161.5v-6.3M267.9 161.3v-7.3M270.7 160.9v-6.6M273.1 160.7v-6.7M275.8 160.4v-7.7M278.3 160.1v-6.9M280.8 159.8v-6.9M283.4 159.5v-6.3M286.0 159.2v-8.2M288.6 158.9v-7.7M291.0 158.7v-7.6M293.7 158.4v-7.6M296.3 158.1v-7.2M299.0 157.8v-8.1M301.4 157.5v-6.3M304.1 157.2v-8.1M306.8 157.3v-7.1M309.5 157.3v-6.5M311.9 157.4v-6.6M314.6 157.7v-6.8M317.1 158.9v-7.6M319.9 160.4v-6.8M322.6 161.7v-7.0M325.4 163.1v-7.4M327.9 164.4v-6.6M330.2 165.6v-7.2M332.7 166.9v-6.5" fill="none" stroke="#bcc1c4" stroke-width="0.8" opacity="1"/>
<path d="M396.0 178.6v-5.3M398.7 178.3v-5.0M401.6 178.1v-5.6M404.2 177.8v-5.5M407.0 177.6v-6.1M409.7 177.4v-5.6M412.4 177.1v-6.2M414.9 176.9v-6.0M417.8 176.6v-5.5M420.2 176.4v-5.2M422.9 176.1v-5.9M425.8 175.9v-6.2M428.2 175.7v-5.1M430.7 175.4v-5.1" fill="none" stroke="#bcc1c4" stroke-width="0.8" opacity="1"/>
<rect x="314.0" y="75.0" width="4.0" height="87.3" fill="url(#gm)" />
<rect x="330.3" y="100.0" width="4.0" height="64.8" fill="url(#gm)" />
<rect x="360.3" y="100.0" width="4.0" height="109.6" fill="url(#gm)" />
<rect x="456.2" y="95.0" width="4.0" height="106.0" fill="url(#gm)" />
<polyline points="16.2,69.7 60.0,72.9 110.0,76.0 165.0,77.7 200.0,76.1 225.0,74.5 250.0,73.2" fill="none" stroke="url(#grd)" stroke-width="4.8" />
<polyline points="16.2,70.0 60.0,73.2 110.0,76.3 165.0,78.0 200.0,76.4 225.0,74.8 250.0,73.5" fill="none" stroke="url(#grd2)" stroke-width="2.0" />
<polyline points="16.2,67.7 60.0,70.9 110.0,74.0 165.0,75.7 200.0,74.1 225.0,72.5 250.0,71.2" fill="none" stroke="#a9b0b8" stroke-width="0.9" />
<polygon points="108.0,78.0 125.0,78.8 178.4,78.6 178.4,82.2 108.0,82.4" fill="#bcc3ca" />
<rect x="214.2" y="55.0" width="4.0" height="35.0" fill="url(#gm)" />
<polygon points="243.5,46.7 267.2,44.3 313.2,41.9 323.6,45.0 357.2,60.0 370.0,64.0 422.2,59.0 437.2,58.0 475.0,55.0 537.7,46.6 557.0,46.4 569.5,59.8 558.4,62.7 500.8,70.1 497.8,71.6 484.5,73.4 528.1,91.4 520.0,93.6 489.5,95.9 454.6,99.6 410.0,103.3 380.0,105.8 359.2,109.1 339.3,107.1 309.5,97.1 248.5,76.0" fill="url(#gg)" />
<polyline points="246.0,48.3 262.0,47.3 268.0,49.5 284.0,53.2 300.0,51.5 313.7,48.2 335.0,54.0 357.2,61.2" fill="none" stroke="#66727c" stroke-width="1.5" />
<polyline points="270.0,74.5 295.0,82.0 330.0,93.0 352.0,99.3" fill="none" stroke="#76808a" stroke-width="1.7" />
<polyline points="266.0,76.5 295.0,86.0 326.0,96.0 345.0,101.0" fill="none" stroke="#76808a" stroke-width="1.7" />
<polygon points="324.9,95.0 345.0,93.6 359.7,98.2 356.0,102.0 338.0,101.5" fill="#7e8790" />
<polyline points="434.7,59.3 455.0,67.5 485.0,79.5 463.0,81.4" fill="none" stroke="#5c687a" stroke-width="1.6" />
<polyline points="455.0,66.0 500.0,61.5" fill="none" stroke="#5c687a" stroke-width="1.2" />
<polyline points="250.0,73.0 272.0,71.0 295.0,69.8 357.0,61.6 370.0,61.8 400.0,59.6 423.0,57.0 437.0,55.8 475.0,53.1 529.0,45.4" fill="none" stroke="#8e96a0" stroke-width="4.6" />
<polyline points="250.0,73.0 272.0,71.0 295.0,69.8 357.0,61.6 370.0,61.8 400.0,59.6 423.0,57.0 437.0,55.8 475.0,53.1 529.0,45.4" fill="none" stroke="#667080" stroke-width="3.0" />
<polyline points="529.0,45.4 541.7,44.0 580.0,41.7 600.0,40.6 669.8,39.1" fill="none" stroke="#9aa2ac" stroke-width="3.6" />
<polyline points="529.0,45.4 541.7,44.0 580.0,41.7 600.0,40.6 669.8,39.1" fill="none" stroke="#77818f" stroke-width="1.8" />
<polygon points="530.3,40.6 541.0,40.3 544.0,42.6 532.5,43.6" fill="#667080" />
<polygon points="595.6,39.2 600.0,35.8 610.0,35.6 613.0,38.6" fill="#7a8491" />
<polyline points="249.0,73.2 272.0,71.2" fill="none" stroke="#6c7582" stroke-width="4.4" />
<polygon points="210.6,37.6 213.7,37.3 252.5,70.2 249.8,71.0" fill="#a8acb0" />
<polygon points="216.8,37.1 228.0,36.6 267.8,69.8 254.7,70.6" fill="#636d7c" />
<polyline points="222.4,36.9 261.2,70.2" fill="none" stroke="#b9bfc8" stroke-width="0.8" />
<polygon points="228.8,36.5 232.3,36.4 271.5,68.8 268.3,69.5" fill="#b4b8bc" />
<polygon points="250.0,70.8 270.0,69.0 277.0,73.4 256.0,75.6" fill="#6b7482" />
<polygon points="377.5,29.7 383.7,29.5 413.0,55.2 406.0,55.5" fill="#a9adb1" />
<polygon points="384.3,29.3 392.4,29.1 419.8,55.2 413.0,55.2" fill="#5f6978" />
<polygon points="393.6,29.0 401.0,28.8 428.5,54.3 421.6,54.8" fill="#5f6978" />
<polygon points="401.7,28.5 404.8,28.3 431.6,52.6 428.5,53.3" fill="#b4b8bc" />
<polygon points="413.0,55.2 431.6,52.8 437.0,57.6 424.0,60.0" fill="#5f6976" />
<path d="M301.2,76.2 Q307,73 324,73.2 Q316,74.4 316,76.4 Q320,78.4 332.3,79.6 Q312,80.4 301.2,76.2Z" fill="#eef2f0" stroke="none" stroke-width="1" />
<rect x="313.9" y="74.2" width="3.7" height="4.6" fill="url(#gm)" />
<rect x="319.0" y="63.2" width="2.8" height="1.4" fill="#3e7a70" />
<rect x="323.0" y="62.9" width="2.8" height="1.4" fill="#3e7a70" />
<rect x="327.0" y="62.6" width="2.8" height="1.4" fill="#e8902a" />
<rect x="331.0" y="62.4" width="2.8" height="1.4" fill="#3a3d40" />
<rect x="335.0" y="62.2" width="2.8" height="1.4" fill="#e8902a" />
<rect x="338.5" y="62.0" width="2.8" height="1.4" fill="#3e7a70" />
<rect x="330.0" y="66.2" width="2.8" height="1.4" fill="#3a3d40" />
<rect x="333.5" y="66.0" width="2.8" height="1.4" fill="#e9a23a" />
<rect x="337.0" y="65.7" width="2.8" height="1.4" fill="#2d2f33" />
<rect x="340.5" y="65.4" width="2.8" height="1.4" fill="#e8902a" />
<rect x="344.0" y="65.1" width="2.8" height="1.4" fill="#3a3d40" />
<polygon points="267.2,35.3 293.3,31.7 313.2,37.7 313.2,49.6 284.2,52.4 267.2,44.2" fill="url(#gbf)" />
<polygon points="267.2,35.3 293.3,31.7 313.2,37.7 284.2,40.6" fill="#dce6e8" />
<polygon points="267.2,35.3 284.2,40.6 284.2,52.4 267.2,44.2" fill="url(#gbs)" />
<polygon points="338.5,74.9 424.8,66.0 462.0,81.0 462.0,91.0 377.5,99.8 338.5,86.2" fill="url(#gbf)" />
<polygon points="338.5,74.9 424.8,66.0 462.0,81.0 377.5,88.4" fill="#d5e1d2" />
<polygon points="338.5,74.9 377.5,88.4 377.5,99.8 338.5,86.2" fill="url(#gbs)" />
<polygon points="415.0,68.5 445.0,70.0 460.0,76.5 432.0,73.0" fill="#dde7e1" />
<polygon points="428.5,72.6 452.0,72.0 459.5,74.6 440.0,75.2" fill="#f2f6f4" />
<polygon points="466.0,51.4 476.4,50.4 476.4,46.9 523.0,42.6 523.0,43.5 531.0,42.9 537.0,45.0 537.0,56.0 528.1,57.4 528.1,58.6 495.0,62.0 483.8,61.4 483.0,59.8 466.0,58.6" fill="url(#gbf)" opacity="0.95"/>
<polygon points="476.4,46.9 523.0,42.6 531.0,42.9 537.0,45.0 528.1,47.0 483.8,50.6" fill="#d9e4e4" />
<polygon points="476.4,46.9 483.8,50.6 483.8,61.4 476.4,59.6" fill="url(#gbs)" />
<polygon points="466.0,51.4 476.4,50.4 476.4,59.6 466.0,58.6" fill="#c9d8c6" />
<polygon points="207.2,51.0 219.9,51.0 219.9,54.2 217.0,55.6 210.0,55.6 207.2,54.2" fill="#98a3b4" />
<ellipse cx="213.5" cy="50.8" rx="6.4" ry="1.6" fill="#d3d9df"/>
<rect x="214.6" y="49.4" width="3.2" height="1.8" fill="#c46ada" />
<polyline points="219.9,51.4 231.0,52.6" fill="none" stroke="#bcc3ca" stroke-width="1.1" />
<text transform="translate(0,81.1) scale(1,0.86)" class="k" font-size="27.4"><tspan x="611.5 639.2 666.9" y="0">地面层</tspan><tspan class="k a" font-size="23.5" x="702.5" y="0.00">（</tspan><tspan class="d a" font-size="22.7" x="720.7" y="0.23">4</tspan><tspan class="d a" font-size="22.7" x="730.9" y="0.23">.</tspan><tspan class="d a" font-size="22.7" x="742.5" y="0.23">5</tspan><tspan class="k a" font-size="21.8" x="758.7" y="-0.47">米</tspan><tspan class="k a" font-size="23.5" x="781.9" y="0.00">）</tspan></text>
<text transform="translate(0,203.2) scale(1,0.86)" class="k" font-size="27.4"><tspan x="611.5 639.2 666.9 694.6" y="0">地下一层</tspan><tspan class="k a" font-size="23.5" x="730.7" y="0.00">（</tspan><tspan class="d" style="text-anchor:start" font-size="22.7" x="742.0" y="-2.67" textLength="12.4" lengthAdjust="spacingAndGlyphs">-</tspan><tspan class="d a" font-size="22.7" x="759.5" y="0.23">6</tspan><tspan class="d a" font-size="22.7" x="768.9" y="0.23">.</tspan><tspan class="d a" font-size="22.7" x="782.0" y="0.23">0</tspan><tspan class="k a" font-size="21.8" x="798.2" y="-0.47">米</tspan><tspan class="k a" font-size="23.5" x="821.5" y="0.00">）</tspan></text>
<text transform="translate(0,322.6) scale(1,0.86)" class="k" font-size="27.4"><tspan x="611.5 639.2 666.9 694.6" y="0">地下二层</tspan><tspan class="k a" font-size="23.5" x="730.5" y="0.00">（</tspan><tspan class="d" style="text-anchor:start" font-size="22.7" x="742.0" y="-2.67" textLength="12.4" lengthAdjust="spacingAndGlyphs">-</tspan><tspan class="d a" font-size="22.7" x="758.6" y="0.23">1</tspan><tspan class="d a" font-size="22.7" x="768.3" y="0.23">0</tspan><tspan class="d a" font-size="22.7" x="779.7" y="0.23">.</tspan><tspan class="d a" font-size="22.7" x="792.2" y="0.23">0</tspan><tspan class="k a" font-size="21.8" x="808.6" y="-0.47">米</tspan><tspan class="k a" font-size="23.5" x="832.3" y="0.00">）</tspan></text>
</svg>
</body></html>
